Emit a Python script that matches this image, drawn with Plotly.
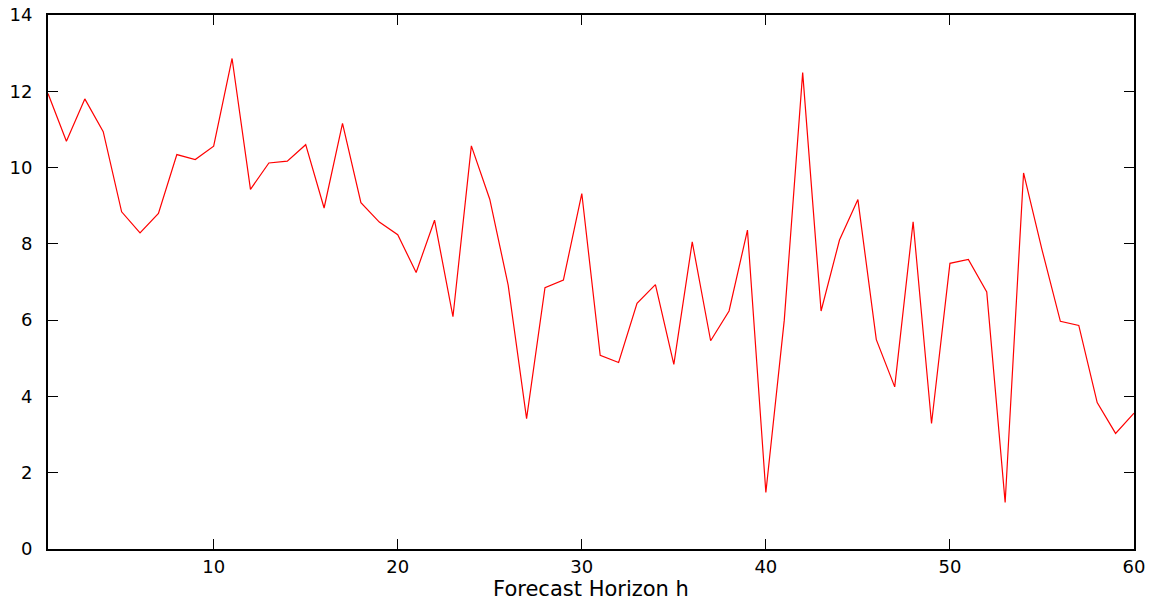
import plotly.graph_objects as go

horizon = list(range(1, 61))
values = [11.94, 10.69, 11.80, 10.94, 8.84, 8.29, 8.80, 10.34, 10.21, 10.56,
          12.86, 9.43, 10.12, 10.17, 10.60, 8.94, 11.16, 9.08, 8.57, 8.24,
          7.25, 8.62, 6.09, 10.57, 9.17, 6.92, 3.42, 6.85, 7.05, 9.32,
          5.08, 4.89, 6.44, 6.93, 4.84, 8.05, 5.46, 6.24, 8.36, 1.48,
          6.00, 12.49, 6.24, 8.10, 9.16, 5.49, 4.25, 8.58, 3.29, 7.49,
          7.59, 6.74, 1.22, 9.86, 7.85, 5.97, 5.86, 3.84, 3.03, 3.56]

x_ticks = [10, 20, 30, 40, 50, 60]
y_ticks = [0, 2, 4, 6, 8, 10, 12, 14]
x_title = "Forecast Horizon h"

fig = go.Figure()
fig.add_trace(go.Scatter(x=horizon, y=values, mode="lines",
                         line=dict(color="#ff0000", width=1.2),
                         showlegend=False, hoverinfo="skip"))

tick_font = dict(family="DejaVu Sans, sans-serif", size=18, color="#000")
title_font = dict(family="DejaVu Sans, sans-serif", size=21, color="#000")
axis_common = dict(showline=True, linecolor="#000", linewidth=2, mirror="allticks",
                   ticks="inside", ticklen=10, tickwidth=1.2, tickcolor="#000",
                   showgrid=False, zeroline=False, tickfont=tick_font,
                   automargin=False)

fig.update_layout(
    width=1164, height=608,
    margin=dict(l=48, r=30, t=15, b=59),
    paper_bgcolor="white", plot_bgcolor="white",
    font=tick_font,
    xaxis=dict(range=[1, 60], tickvals=x_ticks, ticklabelstandoff=0,
               title=dict(text=x_title, font=title_font, standoff=4), **axis_common),
    yaxis=dict(range=[0, 14], tickvals=y_ticks, ticklabelstandoff=10, **axis_common),
)

fig.write_html(
    "out.html",
    config={"displayModeBar": False},
    post_script="document.body.style.margin='0';document.body.style.overflow='hidden';",
)
